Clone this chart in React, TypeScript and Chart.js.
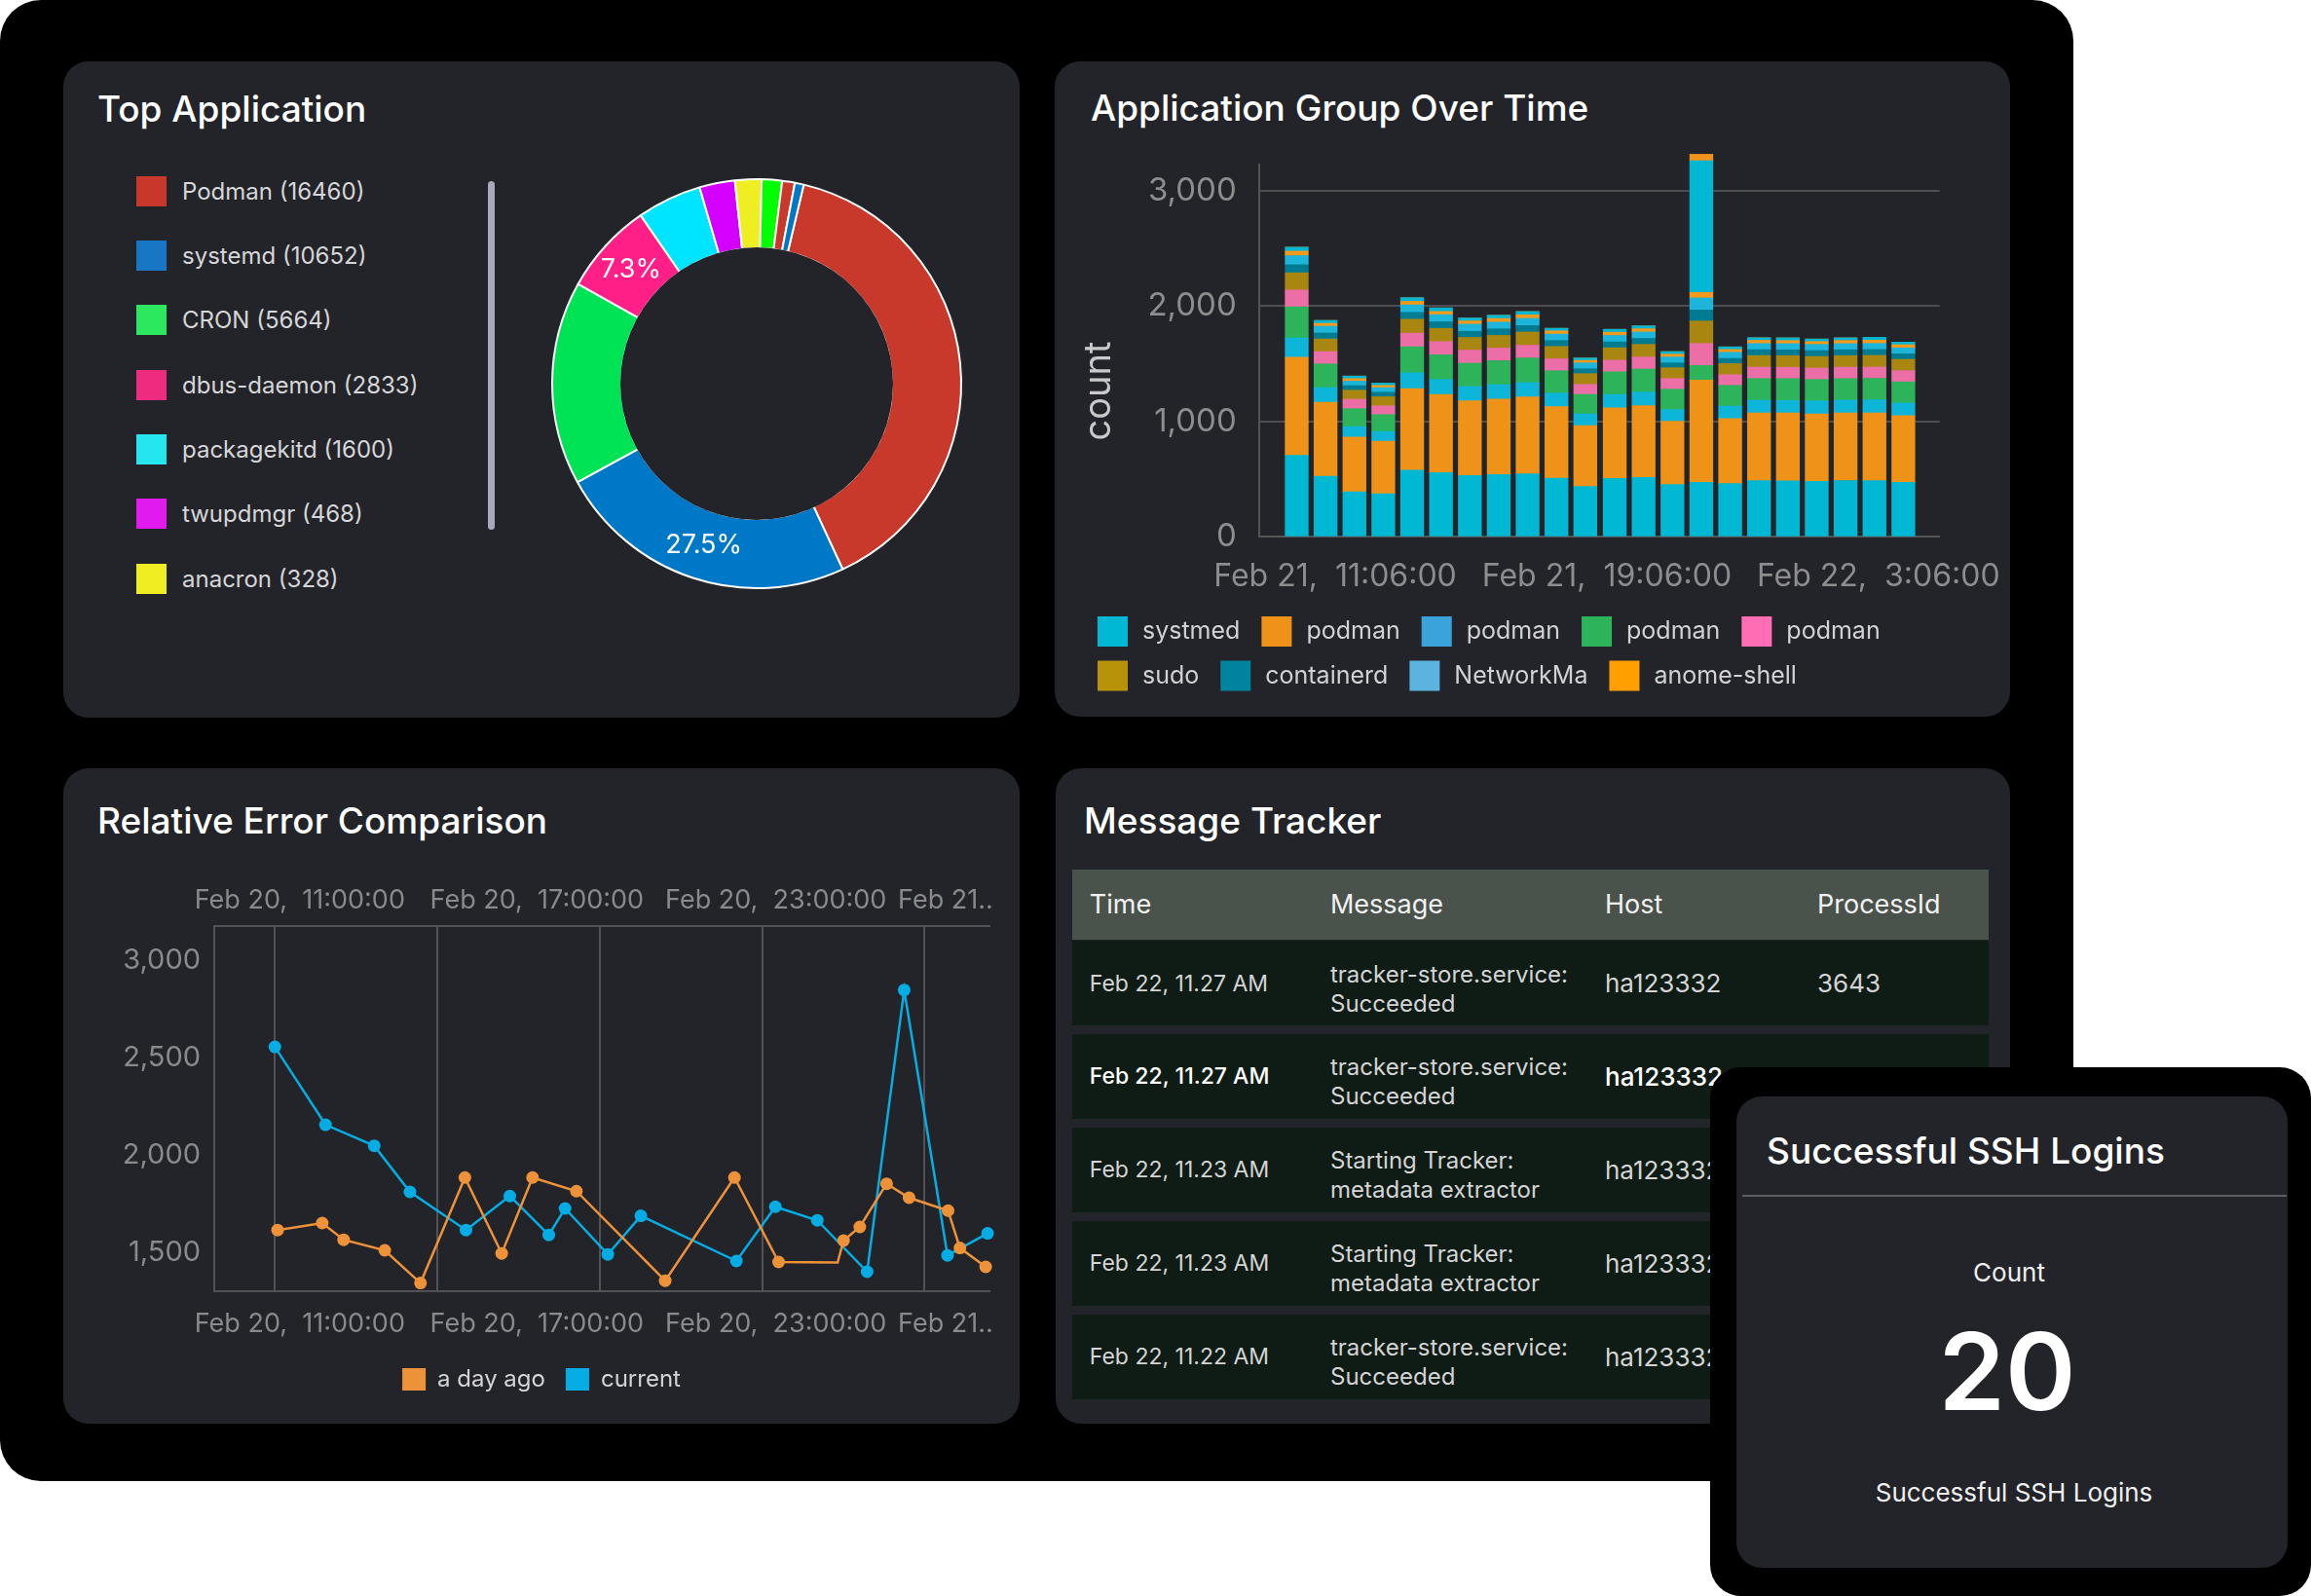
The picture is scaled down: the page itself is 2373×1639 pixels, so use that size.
import React, { useEffect, useRef } from 'react';
import { Chart, registerables } from 'chart.js';

Chart.register(...registerables);

const FONT = 'Inter, "Noto Sans", "DejaVu Sans", sans-serif';
Chart.defaults.font.family = FONT;

const PANEL_BG = '#232429';

/* ---------------- Top Application (doughnut) ---------------- */
const appNames = ['Podman', 'systemd', 'CRON', 'dbus-daemon', 'packagekitd', 'twupdmgr', 'anacron', 'gdm', 'polkitd', 'rsyslogd'];
const appCounts = [16460, 10652, 5664, 2833, 1600, 468, 328, 320, 250, 185];
// share of the ring each slice takes in the picture (percent)
const appArcShares = [39.4, 23.9, 16.1, 7.3, 5.1, 2.8, 2.1, 1.6, 1.0, 0.7];
const appColors = ['#C9392B', '#0078C8', '#00E354', '#FF1F87', '#00E5FF', '#D400FF', '#EEEE22', '#00FF00', '#C9392B', '#0078C8'];
const appSwatches = ['#C8372A', '#1777C4', '#2CE85E', '#EF2B7F', '#25E6EF', '#E11BEF', '#EEEE22'];
const appPercentShown = ['systemd', 'dbus-daemon'];

/* ---------------- Application Group Over Time (stacked bars) ---------------- */
// minutes since Feb 21 00:00
const barTimes = [598, 649, 700, 751, 802, 853, 904, 955, 1006, 1057, 1108, 1160, 1211, 1262, 1313, 1364, 1415, 1466, 1517, 1568, 1619, 1670];
const barTickMinutes = [666, 1146, 1626];
const barTickLabels = ['Feb 21,  11:06:00', 'Feb 21,  19:06:00', 'Feb 22,  3:06:00'];
const barYTicks = [0, 1000, 2000, 3000];

const seriesNames = ['systmed', 'podman', 'podman', 'podman', 'podman', 'sudo', 'containerd', 'NetworkMa', 'anome-shell', 'systemd-logind', 'gdm'];
const seriesColors = ['#00B8D4', '#EF9318', '#0DB5D8', '#2DB35A', '#EB6FA6', '#A8860F', '#007C92', '#1DB6DA', '#F39A1B', '#00B8D4', '#F0931A'];
const seriesSwatches = ['#00B8D4', '#EF9318', '#3AA3DC', '#2DB35A', '#FF6EB4', '#B8930A', '#00839E', '#5BB3E0', '#FF9F00', '#00B8D4', '#F0931A'];
const seriesInLegend = [true, true, true, true, true, true, true, true, true, false, false];

const systmedVals = [706, 526, 391, 374, 579, 557, 532, 540, 546, 509, 436, 506, 515, 453, 473, 461, 487, 485, 481, 488, 487, 473];
const podmanOrangeVals = [852, 641, 475, 456, 706, 678, 647, 655, 667, 619, 529, 613, 622, 549, 886, 565, 588, 590, 585, 586, 588, 577];
const podmanBlueVals = [166, 127, 90, 84, 138, 129, 124, 124, 124, 118, 101, 115, 118, 101, 0, 107, 110, 108, 113, 111, 113, 110];
const podmanGreenVals = [270, 205, 155, 146, 225, 214, 203, 208, 214, 194, 169, 197, 200, 177, 127, 180, 188, 189, 186, 187, 186, 183];
const podmanPinkVals = [146, 107, 82, 76, 118, 115, 113, 110, 110, 104, 87, 101, 104, 93, 191, 93, 98, 98, 98, 99, 98, 98];
const sudoVals = [149, 110, 79, 79, 121, 115, 110, 110, 115, 107, 93, 107, 110, 93, 194, 96, 101, 101, 101, 100, 101, 98];
const containerdVals = [70, 51, 39, 39, 59, 56, 53, 56, 56, 51, 42, 51, 51, 42, 96, 45, 51, 50, 51, 51, 51, 48];
const networkVals = [79, 59, 39, 39, 65, 62, 62, 59, 62, 56, 51, 56, 56, 51, 104, 53, 53, 54, 53, 53, 53, 51];
const anomeVals = [39, 25, 22, 20, 31, 28, 28, 31, 31, 28, 22, 28, 28, 25, 48, 25, 28, 27, 25, 28, 28, 28];
const logindVals = [34, 25, 22, 20, 31, 31, 25, 28, 28, 22, 20, 25, 25, 22, 1142, 22, 22, 23, 22, 22, 25, 22];
const gdmVals = [0, 0, 0, 0, 0, 0, 0, 0, 0, 0, 0, 0, 0, 0, 56, 0, 0, 0, 0, 0, 0, 0];
const seriesValues = [systmedVals, podmanOrangeVals, podmanBlueVals, podmanGreenVals, podmanPinkVals, sudoVals, containerdVals, networkVals, anomeVals, logindVals, gdmVals];

/* ---------------- Relative Error Comparison (lines) ---------------- */
// hours since Feb 20 00:00
const dayAgoHours = [11.10, 12.75, 13.54, 15.06, 16.38, 18.02, 19.38, 20.52, 22.14, 25.42, 27.98, 29.61, 31.79, 32.01, 32.61, 33.60, 34.43, 35.87, 36.31, 37.26];
const dayAgoValues = [1617, 1653, 1567, 1513, 1345, 1887, 1497, 1887, 1817, 1357, 1887, 1453, 1450, 1563, 1633, 1855, 1783, 1717, 1525, 1428];
const dayAgoNoDot = [12];
const currentHours = [11.00, 12.87, 14.67, 15.99, 18.06, 19.68, 21.12, 21.72, 23.30, 24.52, 28.05, 29.49, 31.04, 32.88, 34.25, 35.85, 37.33];
const currentValues = [2558, 2158, 2050, 1813, 1617, 1792, 1592, 1728, 1492, 1690, 1458, 1737, 1667, 1403, 2850, 1487, 1600];
const lineGridHours = [11, 17, 23, 29, 35];
const lineTickHours = [11.92, 20.68, 29.51, 35.78];
const lineTickLabels = ['Feb 20,  11:00:00', 'Feb 20,  17:00:00', 'Feb 20,  23:00:00', 'Feb 21..'];
const lineYTicks = [1500, 2000, 2500, 3000];

/* ---------------- Message Tracker ---------------- */
const msgColumns = ['Time', 'Message', 'Host', 'ProcessId'];
const msgTimes = ['Feb 22, 11.27 AM', 'Feb 22, 11.27 AM', 'Feb 22, 11.23 AM', 'Feb 22, 11.23 AM', 'Feb 22, 11.22 AM'];
const msgTexts = [
  ['tracker-store.service:', 'Succeeded'],
  ['tracker-store.service:', 'Succeeded'],
  ['Starting Tracker:', 'metadata extractor'],
  ['Starting Tracker:', 'metadata extractor'],
  ['tracker-store.service:', 'Succeeded'],
];
const msgHosts = ['ha123332', 'ha123332', 'ha123332', 'ha123332', 'ha123332'];
const msgPids = ['3643', '3643', '3643', '3643', '3643'];
const msgHighlightRow = 1;

/* ---------------- Successful SSH Logins ---------------- */
const sshTitle = 'Successful SSH Logins';
const sshMetric = 'Count';
const sshCount = 20;

/* ---------------- plugins ---------------- */
const holeCoverPlugin = {
  id: 'holeCover',
  afterDatasetsDraw(chart: any, _a: any, opts: any) {
    const arc = chart.getDatasetMeta(0).data[0];
    if (!arc) return;
    const ctx = chart.ctx;
    ctx.save();
    ctx.beginPath();
    ctx.arc(arc.x, arc.y, arc.innerRadius + 1, 0, Math.PI * 2);
    ctx.fillStyle = opts.color;
    ctx.fill();
    ctx.restore();
  },
};

const sliceLabelPlugin = {
  id: 'sliceLabels',
  afterDatasetsDraw(chart: any) {
    const meta = chart.getDatasetMeta(0);
    const total = appCounts.reduce((a, b) => a + b, 0);
    const ctx = chart.ctx;
    ctx.save();
    ctx.font = `400 27px ${FONT}`;
    ctx.fillStyle = '#ffffff';
    ctx.textAlign = 'center';
    ctx.textBaseline = 'middle';
    appNames.forEach((name, i) => {
      if (!appPercentShown.includes(name)) return;
      const p = meta.data[i].tooltipPosition(false);
      ctx.fillText(`${((appCounts[i] / total) * 100).toFixed(1)}%`, p.x, p.y);
    });
    ctx.restore();
  },
};

const flowLegendPlugin = {
  id: 'flowLegend',
  afterDraw(chart: any, _a: any, opts: any) {
    const ctx = chart.ctx;
    ctx.save();
    ctx.font = `${opts.fontSize}px ${FONT}`;
    ctx.textBaseline = 'middle';
    ctx.textAlign = 'left';
    let x = opts.left;
    let y = opts.top;
    chart.data.datasets.forEach((ds: any) => {
      if (!ds.inLegend) return;
      const w = opts.box + opts.textGap + ctx.measureText(ds.label).width;
      if (x > opts.left && x + w > opts.maxRight) {
        x = opts.left;
        y += opts.rowPitch;
      }
      ctx.fillStyle = ds.swatch;
      ctx.fillRect(x, y - opts.box / 2, opts.box, opts.box);
      ctx.fillStyle = opts.color;
      ctx.fillText(ds.label, x + opts.box + opts.textGap, y);
      x += w + opts.itemGap;
    });
    ctx.restore();
  },
};

const sideTitlePlugin = {
  id: 'sideTitle',
  afterDraw(chart: any, _a: any, opts: any) {
    const ctx = chart.ctx;
    ctx.save();
    ctx.translate(opts.x, opts.y);
    ctx.rotate(-Math.PI / 2);
    ctx.font = `${opts.fontSize}px ${FONT}`;
    ctx.fillStyle = opts.color;
    ctx.textAlign = 'center';
    ctx.textBaseline = 'middle';
    ctx.fillText(opts.text, 0, 0);
    ctx.restore();
  },
};

// keep the plot area exactly where the layout puts it (no label overflow padding)
const noPad = (s: any) => {
  s.paddingLeft = 0;
  s.paddingRight = 0;
  s.paddingTop = 0;
  s.paddingBottom = 0;
};

/* ---------------- chart configs ---------------- */
const makeDonut = (): any => ({
  type: 'doughnut',
  data: {
    labels: appNames,
    datasets: [
      {
        data: appArcShares,
        backgroundColor: appColors,
        borderColor: '#ffffff',
        borderWidth: 2,
        hoverOffset: 0,
      },
    ],
  },
  options: {
    responsive: false,
    animation: false,
    events: [],
    radius: 210,
    cutout: '66.2%',
    rotation: 13.3,
    layout: { padding: 0 },
    plugins: { legend: { display: false }, tooltip: { enabled: false }, holeCover: { color: PANEL_BG } },
  },
  plugins: [holeCoverPlugin, sliceLabelPlugin],
});

const makeBars = (): any => ({
  type: 'bar',
  data: {
    datasets: seriesNames.map((name, s) => ({
      label: name,
      data: barTimes.map((t, i) => ({ x: t, y: seriesValues[s][i] })),
      backgroundColor: seriesColors[s],
      swatch: seriesSwatches[s],
      inLegend: seriesInLegend[s],
      barThickness: 23.7,
      borderWidth: 0,
      clip: false,
    })),
  },
  options: {
    responsive: false,
    animation: false,
    events: [],
    layout: { padding: { left: 0, right: 72.3, top: 29.3, bottom: 0 } },
    scales: {
      x: {
        type: 'linear',
        stacked: true,
        offset: false,
        min: 531.2,
        max: 1734.2,
        afterBuildTicks: (s: any) => {
          s.ticks = barTickMinutes.map((value) => ({ value }));
        },
        afterFit: (s: any) => {
          s.height = 178.7;
          noPad(s);
        },
        grid: { display: false, drawTicks: false, offset: false },
        border: { display: true, color: '#555558', width: 2 },
        ticks: {
          autoSkip: false,
          maxRotation: 0,
          padding: 22.3,
          color: '#8d8d8f',
          font: { size: 32 },
          callback: (v: number) => {
            const i = barTickMinutes.indexOf(v);
            return i >= 0 ? barTickLabels[i] : '';
          },
        },
      },
      y: {
        stacked: true,
        min: 0,
        max: 3225,
        afterBuildTicks: (s: any) => {
          s.ticks = barYTicks.map((value) => ({ value }));
        },
        afterFit: (s: any) => {
          s.width = 209.7;
          noPad(s);
        },
        grid: { color: '#4e4e52', lineWidth: 2, drawTicks: false },
        border: { display: true, color: '#555558', width: 2 },
        ticks: {
          padding: 23,
          color: '#8d8d8f',
          font: { size: 33 },
          callback: (v: number) => v.toLocaleString('en-US'),
        },
      },
    },
    plugins: {
      legend: { display: false },
      tooltip: { enabled: false },
      flowLegend: { left: 44, top: 508.5, rowPitch: 45.5, box: 31, textGap: 15, itemGap: 22, maxRight: 930, fontSize: 25, color: '#d2d2d4' },
      sideTitle: { text: 'count', x: 46, y: 261.5, fontSize: 38, color: '#c9c9cb' },
    },
  },
  plugins: [flowLegendPlugin, sideTitlePlugin],
});

const makeLines = (): any => ({
  type: 'line',
  data: {
    datasets: [
      {
        label: 'a day ago',
        data: dayAgoHours.map((x, i) => ({ x, y: dayAgoValues[i] })),
        borderColor: '#EE9239',
        backgroundColor: '#EE9239',
        pointBackgroundColor: '#EE9239',
        borderWidth: 2.5,
        pointRadius: dayAgoHours.map((_, i) => (dayAgoNoDot.includes(i) ? 0 : 6.5)),
        pointBorderWidth: 0,
        tension: 0,
        clip: false,
      },
      {
        label: 'current',
        data: currentHours.map((x, i) => ({ x, y: currentValues[i] })),
        borderColor: '#05ADE4',
        backgroundColor: '#05ADE4',
        pointBackgroundColor: '#05ADE4',
        borderWidth: 2.5,
        pointRadius: 6.5,
        pointBorderWidth: 0,
        tension: 0,
        clip: false,
      },
    ],
  },
  options: {
    responsive: false,
    animation: false,
    events: [],
    layout: { padding: { left: 31, right: 31, top: 0, bottom: 23.4 } },
    scales: {
      x: {
        type: 'linear',
        position: 'bottom',
        min: 8.76,
        max: 37.4,
        afterBuildTicks: (s: any) => {
          s.ticks = [...lineGridHours, ...lineTickHours].sort((a, b) => a - b).map((value) => ({ value }));
        },
        afterFit: (s: any) => {
          s.height = 57.6;
          noPad(s);
        },
        grid: {
          drawTicks: false,
          lineWidth: 2,
          color: (c: any) => (c.tick && lineGridHours.includes(c.tick.value) ? '#525256' : 'rgba(0,0,0,0)'),
        },
        border: { display: true, color: '#525256', width: 2 },
        ticks: {
          autoSkip: false,
          maxRotation: 0,
          padding: 18.1,
          color: '#8a8a8c',
          font: { size: 27 },
          callback: (v: number) => {
            const i = lineTickHours.indexOf(v);
            return i >= 0 ? lineTickLabels[i] : '';
          },
        },
      },
      xTop: {
        type: 'linear',
        position: 'top',
        min: 8.76,
        max: 37.4,
        afterBuildTicks: (s: any) => {
          s.ticks = lineTickHours.map((value) => ({ value }));
        },
        afterFit: (s: any) => {
          s.height = 80.7;
          noPad(s);
        },
        grid: { display: false, drawTicks: false },
        border: { display: true, color: '#525256', width: 2 },
        ticks: {
          autoSkip: false,
          maxRotation: 0,
          padding: 10.1,
          color: '#8a8a8c',
          font: { size: 27 },
          callback: (v: number) => {
            const i = lineTickHours.indexOf(v);
            return i >= 0 ? lineTickLabels[i] : '';
          },
        },
      },
      y: {
        min: 1303,
        max: 3180,
        afterBuildTicks: (s: any) => {
          s.ticks = lineYTicks.map((value) => ({ value }));
        },
        afterFit: (s: any) => {
          s.width = 124;
          noPad(s);
        },
        grid: { display: false, drawTicks: false },
        border: { display: true, color: '#525256', width: 2 },
        ticks: {
          padding: 14,
          color: '#8a8a8c',
          font: { size: 29 },
          callback: (v: number) => v.toLocaleString('en-US'),
        },
      },
    },
    plugins: {
      tooltip: { enabled: false },
      legend: {
        display: true,
        position: 'bottom',
        align: 'center',
        labels: {
          boxWidth: 24,
          boxHeight: 23,
          padding: 21,
          color: '#d4d4d6',
          font: { size: 24 },
          generateLabels: (chart: any) =>
            Chart.defaults.plugins.legend.labels.generateLabels(chart).map((l: any) => ({ ...l, lineWidth: 0 })),
        },
      },
    },
  },
});

/* ---------------- components ---------------- */
const ChartCanvas = ({ make, left, top, width, height }: any) => {
  const ref = useRef<HTMLCanvasElement>(null);
  useEffect(() => {
    const chart = new Chart(ref.current as HTMLCanvasElement, make());
    return () => chart.destroy();
  }, []);
  return <canvas ref={ref} width={width} height={height} style={{ position: 'absolute', left, top, width, height }} />;
};

const Txt = ({ x, base, size, color = '#ffffff', weight = 400, center = false, children }: any) => (
  <div
    style={{
      position: 'absolute',
      left: x,
      top: base - size * 0.8633,
      fontSize: size,
      lineHeight: `${size}px`,
      color,
      fontWeight: weight,
      whiteSpace: 'pre',
      transform: center ? 'translateX(-50%)' : undefined,
    }}
  >
    {children}
  </div>
);

const Box = ({ x, y, w, h, r = 0, bg, children }: any) => (
  <div style={{ position: 'absolute', left: x, top: y, width: w, height: h, borderRadius: r, background: bg }}>{children}</div>
);

const TABLE_LEFT = 1100.6;
const TABLE_W = 941;
const colOffsets = [18.2, 265.4, 547.4, 765.4];

export default function App() {
  return (
    <div
      style={{
        position: 'absolute',
        left: 0,
        top: 0,
        width: 2373,
        height: 1639,
        background: '#ffffff',
        overflow: 'hidden',
        fontFamily: FONT,
      }}
    >
      <Box x={0} y={0} w={2129} h={1521} r={42} bg="#000000" />

      {/* Top Application */}
      <Box x={65} y={63} w={982} h={674} r={26} bg={PANEL_BG} />
      <Txt x={100} base={125} size={37} weight={500}>Top Application</Txt>
      {appSwatches.map((c, i) => (
        <div
          key={i}
          style={{
            position: 'absolute',
            left: 140,
            top: 180.8 + i * 66.3,
            height: 31,
            display: 'flex',
            alignItems: 'center',
            whiteSpace: 'pre',
          }}
        >
          <div style={{ width: 31, height: 31, background: c }} />
          <div style={{ marginLeft: 16, fontSize: 24, color: '#d6d6d8' }}>{`${appNames[i]} (${appCounts[i]})`}</div>
        </div>
      ))}
      <Box x={501} y={186} w={7} h={358} r={4} bg="#A7A9BA" />
      <ChartCanvas make={makeDonut} left={557} top={174} width={440} height={440} />

      {/* Application Group Over Time */}
      <Box x={1083} y={63} w={981} h={673} r={26} bg={PANEL_BG} />
      <Txt x={1120} base={124} size={37} weight={500}>Application Group Over Time</Txt>
      <ChartCanvas make={makeBars} left={1083} top={140} width={981} height={590} />

      {/* Relative Error Comparison */}
      <Box x={65} y={789} w={982} h={673} r={26} bg={PANEL_BG} />
      <Txt x={100} base={856} size={37} weight={500}>Relative Error Comparison</Txt>
      <ChartCanvas make={makeLines} left={65} top={870} width={982} height={592} />

      {/* Message Tracker */}
      <Box x={1084} y={789} w={980} h={673} r={26} bg={PANEL_BG} />
      <Txt x={1113} base={855.6} size={37} weight={500}>Message Tracker</Txt>
      <div style={{ position: 'absolute', left: TABLE_LEFT, top: 893.4, width: TABLE_W, height: 71.2, background: '#4A524C' }}>
        {msgColumns.map((c, i) => (
          <div
            key={c}
            style={{
              position: 'absolute',
              left: colOffsets[i],
              top: 0,
              height: '100%',
              display: 'flex',
              alignItems: 'center',
              fontSize: 27,
              color: '#f2f2f2',
            }}
          >
            {c}
          </div>
        ))}
      </div>
      {msgTimes.map((t, r) => {
        const hi = r === msgHighlightRow;
        const col = hi ? '#ffffff' : '#d4d4d4';
        const cells = [
          <div style={{ fontSize: 23, color: col, fontWeight: hi ? 500 : 400 }}>{t}</div>,
          <div style={{ fontSize: 24, lineHeight: '30px', color: '#d4d4d4', marginTop: 12 }}>
            {msgTexts[r].map((l, k) => (
              <div key={k}>{l}</div>
            ))}
          </div>,
          <div style={{ fontSize: 26, color: col, fontWeight: hi ? 500 : 400 }}>{msgHosts[r]}</div>,
          <div style={{ fontSize: 26, color: col }}>{msgPids[r]}</div>,
        ];
        return (
          <div
            key={r}
            style={{ position: 'absolute', left: TABLE_LEFT, top: 966 + r * 95.9, width: TABLE_W, height: 87, background: '#0F1B15' }}
          >
            {cells.map((cell, i) => (
              <div
                key={i}
                style={{
                  position: 'absolute',
                  left: colOffsets[i],
                  top: 0,
                  height: '100%',
                  display: 'flex',
                  alignItems: 'center',
                  whiteSpace: 'pre',
                }}
              >
                {cell}
              </div>
            ))}
          </div>
        );
      })}

      {/* Successful SSH Logins card */}
      <Box x={1756} y={1096} w={617} h={543} r={32} bg="#000000" />
      <Box x={1783} y={1126} w={566} h={484} r={26} bg={PANEL_BG} />
      <Txt x={1814} base={1194.7} size={37} weight={500}>{sshTitle}</Txt>
      <Box x={1789} y={1227} w={559} h={2} bg="#5e5e60" />
      <Txt x={2063} base={1316} size={26} center color="#f0f0f0">{sshMetric}</Txt>
      <Txt x={2061} base={1448} size={110} weight={600} center>{String(sshCount)}</Txt>
      <Txt x={2068} base={1542} size={26} center color="#f0f0f0">{sshTitle}</Txt>
    </div>
  );
}
